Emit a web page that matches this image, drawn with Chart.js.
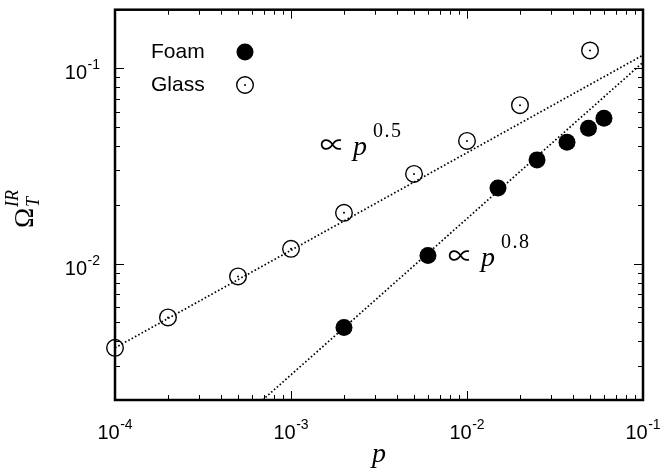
<!DOCTYPE html>
<html><head><meta charset="utf-8">
<script src="https://cdn.jsdelivr.net/npm/chart.js@4"></script>
<style>html,body{margin:0;padding:0;background:#fff;}</style>
</head><body><canvas id="c" width="665" height="474"></canvas>
<script>
// ---- data ----
const glassP     = [1e-4, 2e-4, 5e-4, 1e-3, 2e-3, 5e-3, 1e-2, 2e-2, 5e-2];
const glassOmega = [0.0037, 0.0053, 0.0086, 0.0119, 0.0182, 0.0288, 0.0425, 0.0648, 0.1236];
const foamP      = [2e-3, 6e-3, 1.5e-2, 2.5e-2, 3.7e-2, 4.9e-2, 6e-2];
const foamOmega  = [0.0047, 0.0110, 0.0244, 0.0340, 0.0419, 0.0494, 0.0556];
const glassFitP     = [1e-4, 0.1];
const glassFitOmega = [0.0037, 0.117];
const foamFitP      = [6.9e-4, 0.1];
const foamFitOmega  = [0.002, 0.1075];
const xDecadeExps = [-4, -3, -2, -1];
const yDecadeExps = [-2, -1];
const seriesNames = ['Foam', 'Glass'];
const fitLabels = ['0.5', '0.8'];

const pts = (xs, ys) => xs.map((x, i) => ({x, y: ys[i]}));

const SANS = '"Liberation Sans", Arial, sans-serif';
const SERIF = '"Liberation Serif", "DejaVu Serif", serif';

const decorPlugin = {
  id: 'decor',
  beforeDatasetsDraw(chart) {
    const ctx = chart.ctx, a = chart.chartArea;
    const xs = chart.scales.x, ys = chart.scales.y;
    ctx.save();
    ctx.strokeStyle = '#000';
    ctx.lineWidth = 1;
    for (let e = -4; e <= -1; e++) {
      for (let m = 1; m <= 9; m++) {
        const v = m * Math.pow(10, e);
        if (v < xs.min * 0.999 || v > xs.max * 1.001) continue;
        const px = Math.round(xs.getPixelForValue(v)) + 0.5;
        const L = m === 1 ? 9 : 5;
        ctx.beginPath();
        ctx.moveTo(px, a.bottom); ctx.lineTo(px, a.bottom - L);
        ctx.moveTo(px, a.top); ctx.lineTo(px, a.top + L);
        ctx.stroke();
      }
    }
    for (let e = -3; e <= -1; e++) {
      for (let m = 1; m <= 9; m++) {
        const v = m * Math.pow(10, e);
        if (v < ys.min * 0.999 || v > ys.max * 1.001) continue;
        const py = Math.round(ys.getPixelForValue(v)) + 0.5;
        const L = m === 1 ? 9 : 5;
        ctx.beginPath();
        ctx.moveTo(a.left, py); ctx.lineTo(a.left + L, py);
        ctx.moveTo(a.right, py); ctx.lineTo(a.right - L, py);
        ctx.stroke();
      }
    }
    ctx.lineWidth = 2.5;
    ctx.strokeRect(a.left, a.top, a.right - a.left, a.bottom - a.top);
    ctx.restore();
  },
  afterDraw(chart) {
    const ctx = chart.ctx, a = chart.chartArea;
    const xs = chart.scales.x, ys = chart.scales.y;
    ctx.save();
    ctx.fillStyle = '#000';
    ctx.textBaseline = 'alphabetic';
    ctx.textAlign = 'left';
    const baseFont = '20px ' + SANS, supFont = '14px ' + SANS;
    function powLabel(exp, left, baseY) {
      ctx.font = baseFont; ctx.fillText('10', left, baseY);
      const wb = ctx.measureText('10').width;
      ctx.font = supFont; ctx.fillText(String(exp), left + wb + 0.5, baseY - 10);
    }
    function powWidth(exp) {
      ctx.font = baseFont; const wb = ctx.measureText('10').width;
      ctx.font = supFont; return wb + 0.5 + ctx.measureText(String(exp)).width;
    }
    xDecadeExps.forEach(e => {
      const px = xs.getPixelForValue(Math.pow(10, e));
      powLabel(e, px - powWidth(e) / 2, 439);
    });
    yDecadeExps.forEach(e => {
      const py = ys.getPixelForValue(Math.pow(10, e));
      powLabel(e, 100 - powWidth(e), py + 11);
    });
    // x title
    ctx.font = 'italic 28px ' + SERIF;
    ctx.textAlign = 'center';
    ctx.fillText('p', (a.left + a.right) / 2, 462);
    // y title (rotated)
    ctx.save();
    ctx.translate(33, 228);
    ctx.rotate(-Math.PI / 2);
    ctx.textAlign = 'left';
    ctx.font = '27px ' + SERIF;
    ctx.fillText('Ω', 0, 0);
    const wO = ctx.measureText('Ω').width;
    ctx.font = 'italic 18px ' + SERIF;
    ctx.fillText('T', wO + 1, 6);
    ctx.fillText('IR', wO + 1, -15);
    ctx.restore();
    // fit annotations
    function propLabel(x, y, exp) {
      ctx.textAlign = 'left';
      ctx.font = '25px "Noto Sans CJK JP", "DejaVu Sans", serif';
      ctx.fillText('∝', x, y - 1);
      ctx.font = 'italic 28px ' + SERIF;
      ctx.fillText('p', x + 33, y);
      ctx.font = '20px ' + SERIF;
      try { ctx.letterSpacing = '1.5px'; } catch (err) {}
      ctx.fillText(exp, x + 53, y - 18);
      try { ctx.letterSpacing = '0px'; } catch (err) {}
    }
    propLabel(320, 155, fitLabels[0]);
    propLabel(448, 266, fitLabels[1]);
    // legend
    ctx.font = '21px ' + SANS;
    ctx.textAlign = 'left';
    ctx.textBaseline = 'middle';
    ctx.fillText(seriesNames[0], 151, 52);
    ctx.fillText(seriesNames[1], 151, 85);
    ctx.beginPath(); ctx.arc(245, 52, 8.5, 0, Math.PI * 2); ctx.fill();
    ctx.lineWidth = 1.4;
    ctx.beginPath(); ctx.arc(245, 85, 8.3, 0, Math.PI * 2); ctx.stroke();
    ctx.beginPath(); ctx.arc(245, 85, 1, 0, Math.PI * 2); ctx.fill();
    ctx.restore();
  }
};

new Chart(document.getElementById('c'), {
  type: 'scatter',
  data: {
    datasets: [
      { label: seriesNames[0], data: pts(foamP, foamOmega), pointStyle: 'circle', pointRadius: 8.5,
        backgroundColor: '#000', borderColor: '#000', borderWidth: 0, clip: false },
      { label: seriesNames[1], data: pts(glassP, glassOmega), pointStyle: 'circle', pointRadius: 8.3,
        backgroundColor: 'rgba(0,0,0,0)', borderColor: '#000', borderWidth: 1.4, clip: false },
      { label: 'glass-centre', data: pts(glassP, glassOmega), pointStyle: 'circle', pointRadius: 1,
        backgroundColor: '#000', borderColor: '#000', borderWidth: 0, clip: false },
      { label: 'fit-glass', data: pts(glassFitP, glassFitOmega), showLine: true, pointRadius: 0,
        borderColor: '#000', borderWidth: 1.7, borderDash: [1.6, 2.2], fill: false },
      { label: 'fit-foam', data: pts(foamFitP, foamFitOmega), showLine: true, pointRadius: 0,
        borderColor: '#000', borderWidth: 1.7, borderDash: [1.6, 2.2], fill: false }
    ]
  },
  options: {
    responsive: false,
    animation: false,
    devicePixelRatio: 1,
    layout: { padding: { left: 115, right: 22, top: 8, bottom: 74 } },
    plugins: { legend: { display: false }, tooltip: { enabled: false } },
    scales: {
      x: { type: 'logarithmic', min: 1e-4, max: 0.1, display: false },
      y: { type: 'logarithmic', min: 0.002, max: 0.2, display: false }
    }
  },
  plugins: [decorPlugin]
});
</script>
</body></html>
